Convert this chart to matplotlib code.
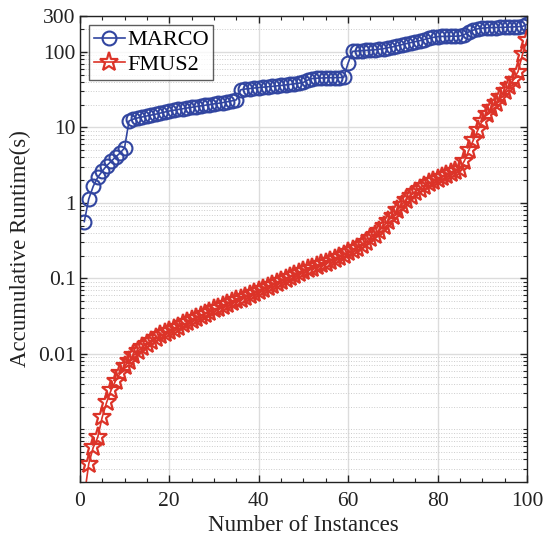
import numpy as np
import matplotlib
matplotlib.use("Agg")
import matplotlib.pyplot as plt
from matplotlib.ticker import LogLocator, FixedLocator, FixedFormatter, MultipleLocator, NullFormatter

plt.rcParams['font.family'] = ['Liberation Serif', 'DejaVu Serif']

instances = list(range(1, 101))

marco = [0.565, 1.13, 1.66, 2.18, 2.62, 3.11, 3.55, 4.06, 4.58, 5.34,
         12.2, 12.9, 13.4, 13.8, 14.2, 14.6, 15.0, 15.5, 16.0, 16.5,
         16.9, 17.3, 17.7, 18.1, 18.5, 18.9, 19.3, 19.7, 20.1, 20.5,
         20.9, 21.4, 21.9, 22.5, 23.2, 31.6, 32.3, 32.8, 33.3, 33.8,
         34.2, 34.6, 35.0, 35.5, 36.0, 36.6, 37.2, 37.9, 38.6, 39.5,
         42.5, 44.5, 45.0, 45.2, 45.4, 45.6, 45.7, 45.8, 46.0, 71.5,
         102, 103, 104, 105, 106, 107, 109, 111, 114, 117,
         121, 125, 129, 133, 137, 141, 146, 151, 156, 160,
         161, 161, 162, 162, 163, 170, 185, 195, 203, 207,
         209, 210, 211, 212, 213, 214, 215, 216, 218, 232]

fmus2 = [1.3e-4, 3.5e-4, 5.75e-4, 7.8e-4, 1.44e-3, 2.28e-3, 3.3e-3, 4.4e-3, 5.5e-3, 6.8e-3,
         8.1e-3, 9.5e-3, 1.08e-2, 1.22e-2, 1.36e-2, 1.47e-2, 1.61e-2, 1.75e-2, 1.88e-2, 2.0e-2,
         0.0215, 0.023, 0.0245, 0.026, 0.028, 0.030, 0.032, 0.034, 0.036, 0.039,
         0.041, 0.043, 0.046, 0.048, 0.051, 0.054, 0.057, 0.060, 0.064, 0.068,
         0.072, 0.077, 0.082, 0.087, 0.092, 0.098, 0.104, 0.110, 0.117, 0.125,
         0.132, 0.139, 0.146, 0.154, 0.162, 0.171, 0.181, 0.193, 0.207, 0.222,
         0.238, 0.256, 0.278, 0.305, 0.34, 0.38, 0.43, 0.50, 0.58, 0.68,
         0.80, 0.95, 1.10, 1.25, 1.40, 1.55, 1.70, 1.83, 1.95, 2.06,
         2.2, 2.35, 2.5, 2.65, 2.85, 3.6, 5.0, 6.8, 9.2, 12.3,
         15.2, 18, 21, 25, 30, 35, 43, 55, 93, 145]

yticks = [0.01, 0.1, 1, 10, 100, 300]
ytick_labels = ['0.01', '0.1', '1', '10', '100', '300']
xticks = [0, 20, 40, 60, 80, 100]

blue = '#3145a0'
red = '#dc3328'

fig = plt.figure(figsize=(5.43, 5.40), dpi=100)
ax = fig.add_axes([0.147, 0.1074, 0.8235, 0.863])

ax.plot(instances, marco, color=blue, marker='o', markersize=10, markerfacecolor='none',
        markeredgewidth=1.5, linewidth=1.2, label='MARCO')
ax.plot(instances, fmus2, color=red, marker='*', markersize=14, markerfacecolor='none',
        markeredgewidth=1.6, linewidth=1.2, label='FMUS2')

ax.set_yscale('log')
ax.set_xlim(0, 100)
ax.set_ylim(2e-4, 300)

ax.yaxis.set_major_locator(FixedLocator(yticks))
ax.yaxis.set_major_formatter(FixedFormatter(ytick_labels))
ax.yaxis.set_minor_locator(LogLocator(base=10, subs=np.arange(1, 10), numticks=20))
ax.yaxis.set_minor_formatter(NullFormatter())
ax.xaxis.set_major_locator(FixedLocator(xticks))
ax.xaxis.set_minor_locator(MultipleLocator(5))

ax.tick_params(which='both', direction='in', top=True, right=True, labelsize=15.5, colors='#222222')
ax.tick_params(which='major', length=5, width=1)
ax.tick_params(which='minor', length=3, width=0.8)
ax.tick_params(axis='x', which='major', pad=7)
ax.tick_params(axis='y', which='major', pad=3)

ax.grid(True, which='major', color='#dcdcdc', linewidth=1.0, linestyle='-')
ax.grid(True, which='minor', axis='y', color='#cccccc', linewidth=0.7, linestyle=':')
ax.set_axisbelow(True)

for s in ax.spines.values():
    s.set_color('#222222')
    s.set_linewidth(1.0)

ax.set_xlabel('Number of Instances', fontsize=16.5, color='#222222', labelpad=3)
ax.set_ylabel('Accumulative Runtime(s)', fontsize=16.5, color='#222222', labelpad=5)

leg = ax.legend(loc='upper left', fontsize=16, frameon=True, fancybox=False,
                borderaxespad=0.4, handlelength=1.4, labelspacing=0.18,
                handletextpad=0.1, borderpad=0.22)
leg.get_frame().set_edgecolor('#333333')
leg.get_frame().set_linewidth(1.0)

fig.savefig('out.png', dpi=100)
